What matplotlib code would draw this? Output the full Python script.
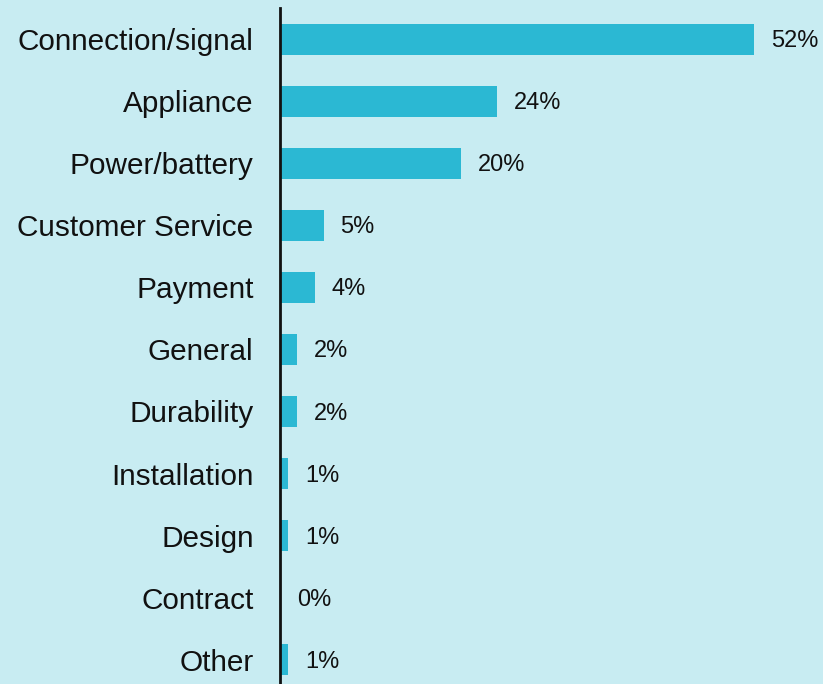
import matplotlib.pyplot as plt

categories = ["Connection/signal", "Appliance", "Power/battery", "Customer Service",
              "Payment", "General", "Durability", "Installation", "Design",
              "Contract", "Other"]
values = [52.0, 23.8, 19.9, 4.8, 3.8, 1.9, 1.9, 0.9, 0.9, 0.0, 0.9]
labels = ["52%", "24%", "20%", "5%", "4%", "2%", "2%", "1%", "1%", "0%", "1%"]

bg = "#c8ecf2"
bar_color = "#2bb8d3"

plt.rcParams['font.family'] = ['Liberation Sans', 'DejaVu Sans']

fig = plt.figure(figsize=(8.23, 6.84), dpi=100)
fig.patch.set_facecolor(bg)
# axes placed in pixel terms: left edge at x=280, top at y=8
ax = fig.add_axes([280 / 823, 0, 543 / 823, 676 / 684])
ax.set_facecolor(bg)

pos = list(range(len(categories)))
ax.barh(pos, values, height=0.5, color=bar_color)

for p, v, lab in zip(pos, values, labels):
    ax.annotate(lab, xy=(v, p), xytext=(12, -1.5), textcoords="offset points",
                ha="left", va="center", fontsize=17, color="#111111")

ax.set_ylim(10.39, -0.5)
ax.set_xlim(0, 543 / 474 * 52)
ax.set_yticks(pos)
ax.set_yticklabels(categories, fontsize=21.4, color="#111111")
ax.tick_params(axis="y", length=0, pad=19)
ax.set_xticks([])

for s in ["top", "right", "bottom"]:
    ax.spines[s].set_visible(False)
ax.spines["left"].set_linewidth(2)
ax.spines["left"].set_color("#111111")

fig.savefig("out.png", dpi=100, facecolor=bg)
